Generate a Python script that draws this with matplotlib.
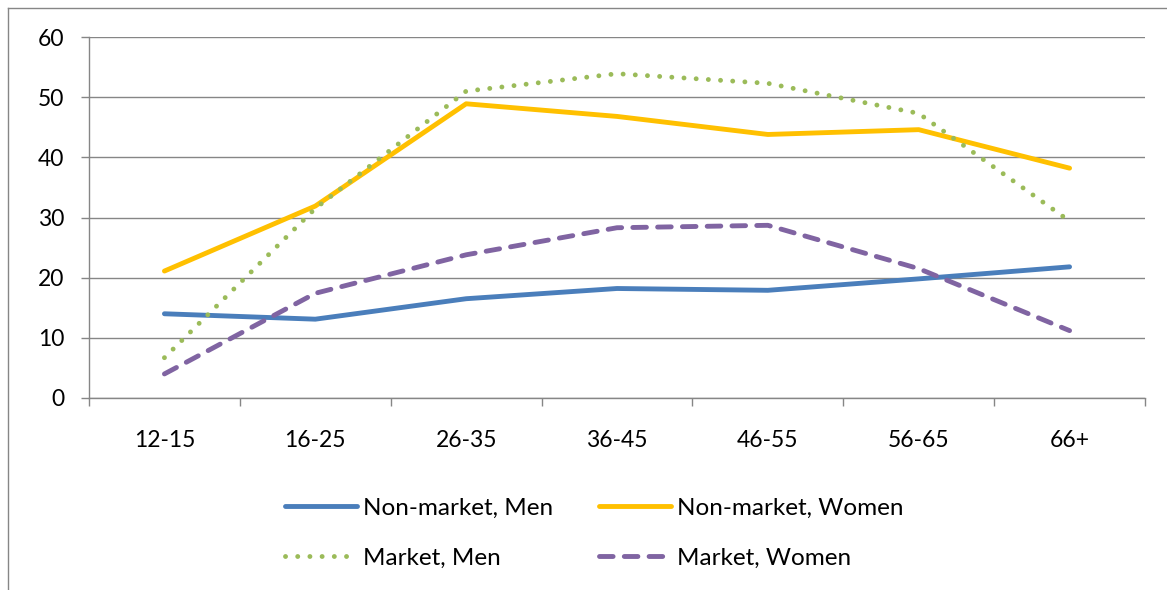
import matplotlib
matplotlib.use("Agg")
import matplotlib.pyplot as plt
from matplotlib.lines import Line2D

plt.rcParams["font.family"] = ["Lato", "DejaVu Sans"]

age_groups = ["12-15", "16-25", "26-35", "36-45", "46-55", "56-65", "66+"]
nonmarket_men = [14.0, 13.1, 16.5, 18.2, 17.9, 19.8, 21.8]
nonmarket_women = [21.1, 31.9, 48.9, 46.8, 43.8, 44.6, 38.2]
market_men = [6.7, 31.5, 51.0, 53.9, 52.3, 47.3, 29.4]
market_women = [4.0, 17.4, 23.8, 28.3, 28.7, 21.5, 11.2]

W, H = 1167, 590
fig = plt.figure(figsize=(W / 100, H / 100), dpi=100)
ax = fig.add_axes([89 / W, (H - 398) / H, (1145 - 89) / W, (398 - 37) / H])

grey = "#868686"
lw = 3.5
x = list(range(len(age_groups)))

h_nmm, = ax.plot(x, nonmarket_men, color="#4A7EBB", lw=lw, solid_capstyle="round",
                 label="Non-market, Men", zorder=3)
h_nmw, = ax.plot(x, nonmarket_women, color="#FFC000", lw=lw, solid_capstyle="round",
                 label="Non-market, Women", zorder=3)
h_mm, = ax.plot(x, market_men, color="#9BBB59", lw=lw, dash_capstyle="round",
                linestyle=(0, (0.01, 2.5)), label="Market, Men", zorder=3)
h_mw, = ax.plot(x, market_women, color="#8064A2", lw=lw, dash_capstyle="round",
                linestyle=(0, (2.8, 2.3)), label="Market, Women", zorder=3)

ax.set_ylim(0, 60)
ax.set_yticks(range(0, 61, 10))
ax.set_xlim(-0.5, len(age_groups) - 0.5)
ax.set_xticks([i - 0.5 for i in range(len(age_groups) + 1)])
ax.set_xticklabels([])
ax.set_xticks(x, minor=True)
ax.set_xticklabels(age_groups, minor=True)

ax.grid(axis="y", color=grey, lw=1.0, zorder=1)
ax.set_axisbelow(True)
for side in ("top", "right"):
    ax.spines[side].set_visible(False)
for side in ("left", "bottom"):
    ax.spines[side].set_color(grey)
    ax.spines[side].set_linewidth(1.0)

ax.tick_params(axis="y", which="major", length=6, width=1.0, color=grey,
               pad=12, labelsize=16.5)
ax.tick_params(axis="x", which="major", length=6, width=1.0, color=grey)
ax.tick_params(axis="x", which="minor", length=0, pad=23, labelsize=16.5)

# outer chart frame
fig.add_artist(Line2D([7.5 / W, 7.5 / W], [0, 1 - 7.5 / H], color=grey, lw=1.0))
fig.add_artist(Line2D([7.5 / W, 1], [1 - 7.5 / H, 1 - 7.5 / H], color=grey, lw=1.0))

# legend filled column-wise: rows read Non-market then Market
fig.legend(handles=[h_nmm, h_mm, h_nmw, h_mw], loc="center",
           bbox_to_anchor=(594 / W, 1 - 533 / H), ncol=2,
           frameon=False, fontsize=17.5, handlelength=2.95, handletextpad=0.25,
           columnspacing=1.9, labelspacing=1.2)

fig.savefig("out.png", dpi=100)
